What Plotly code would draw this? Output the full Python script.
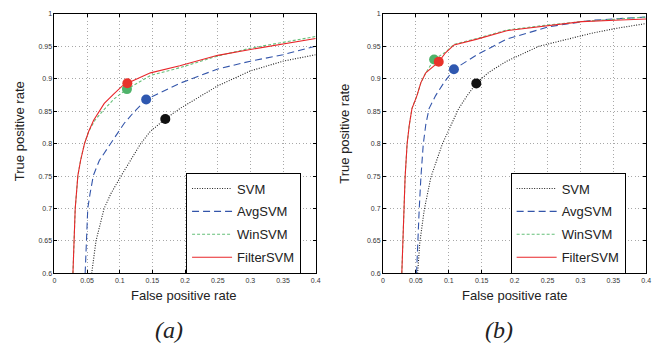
import plotly.graph_objects as go

# ---- Panel (a) data ----
a_svm_x = [0.057, 0.0636, 0.076, 0.0864, 0.1025, 0.1167, 0.132, 0.147, 0.1697, 0.192, 0.25, 0.30, 0.35, 0.40]
a_svm_y = [0.600, 0.650, 0.700, 0.723, 0.751, 0.774, 0.800, 0.819, 0.838, 0.854, 0.889, 0.912, 0.927, 0.937]
a_avg_x = [0.047, 0.0485, 0.051, 0.0545, 0.0596, 0.0687, 0.0864, 0.0965, 0.1066, 0.122, 0.1404, 0.192, 0.25, 0.30, 0.35, 0.40]
a_avg_y = [0.600, 0.650, 0.700, 0.723, 0.751, 0.774, 0.800, 0.816, 0.831, 0.849, 0.868, 0.893, 0.915, 0.927, 0.937, 0.950]
a_win_x = [0.0283, 0.0298, 0.0318, 0.0359, 0.040, 0.046, 0.0525, 0.062, 0.0737, 0.0914, 0.111, 0.147, 0.192, 0.25, 0.30, 0.35, 0.40]
a_win_y = [0.600, 0.650, 0.700, 0.751, 0.774, 0.800, 0.819, 0.836, 0.850, 0.869, 0.884, 0.905, 0.917, 0.935, 0.947, 0.956, 0.965]
a_fil_x = [0.0283, 0.0298, 0.0318, 0.0359, 0.040, 0.046, 0.0525, 0.060, 0.0687, 0.0763, 0.0914, 0.104, 0.1116, 0.147, 0.192, 0.25, 0.30, 0.35, 0.40]
a_fil_y = [0.600, 0.650, 0.700, 0.751, 0.774, 0.800, 0.819, 0.836, 0.850, 0.862, 0.877, 0.889, 0.893, 0.909, 0.920, 0.936, 0.945, 0.953, 0.962]
a_pts_x = [0.1697, 0.1404, 0.111, 0.1116]
a_pts_y = [0.838, 0.868, 0.884, 0.893]

# ---- Panel (b) data ----
b_svm_x = [0.0526, 0.056, 0.0627, 0.0727, 0.090, 0.103, 0.115, 0.128, 0.1418, 0.161, 0.188, 0.237, 0.277, 0.317, 0.357, 0.40]
b_svm_y = [0.600, 0.648, 0.698, 0.748, 0.799, 0.829, 0.854, 0.874, 0.893, 0.910, 0.927, 0.950, 0.960, 0.970, 0.978, 0.985]
b_avg_x = [0.051, 0.0526, 0.055, 0.0576, 0.0612, 0.065, 0.070, 0.080, 0.0927, 0.1078, 0.143, 0.188, 0.252, 0.317, 0.40]
b_avg_y = [0.600, 0.648, 0.698, 0.748, 0.799, 0.829, 0.854, 0.874, 0.894, 0.9145, 0.937, 0.961, 0.980, 0.990, 0.995]
b_win_x = [0.0286, 0.030, 0.0316, 0.0336, 0.0366, 0.040, 0.044, 0.0516, 0.0576, 0.065, 0.0777, 0.095, 0.108, 0.143, 0.188, 0.252, 0.302, 0.352, 0.40]
b_win_y = [0.600, 0.648, 0.698, 0.748, 0.799, 0.829, 0.854, 0.874, 0.894, 0.909, 0.9296, 0.941, 0.953, 0.962, 0.975, 0.983, 0.988, 0.992, 0.995]
b_fil_x = [0.0286, 0.030, 0.0316, 0.0336, 0.0366, 0.040, 0.044, 0.0516, 0.0576, 0.065, 0.0847, 0.095, 0.108, 0.143, 0.188, 0.252, 0.302, 0.352, 0.40]
b_fil_y = [0.600, 0.648, 0.698, 0.748, 0.799, 0.829, 0.854, 0.874, 0.894, 0.909, 0.926, 0.940, 0.952, 0.961, 0.974, 0.982, 0.988, 0.990, 0.992]
b_pts_x = [0.1418, 0.1078, 0.0777, 0.0847]
b_pts_y = [0.8928, 0.9145, 0.9296, 0.926]

names = ["SVM", "AvgSVM", "WinSVM", "FilterSVM"]
line_colors = ["#222222", "#3355aa", "#66c07a", "#e8262a"]
dot_colors = ["#111111", "#2f58b0", "#4fb36a", "#e8322b"]
dashes = ["1px,1.5px", "7px,4px", "3px,2px", "solid"]

x_ticks = [0, 0.05, 0.1, 0.15, 0.2, 0.25, 0.3, 0.35, 0.4]
x_ticktext = ["0", "0.05", "0.1", "0.15", "0.2", "0.25", "0.3", "0.35", "0.4"]
y_ticks = [0.6, 0.65, 0.7, 0.75, 0.8, 0.85, 0.9, 0.95, 1.0]
y_ticktext = ["0.6", "0.65", "0.7", "0.75", "0.8", "0.85", "0.9", "0.95", "1"]
x_label = "False positive rate"
y_label = "True positive rate"
captions = ["(a)", "(b)"]

W, H = 672, 347
def px(v):
    return v / W
def py(v):
    return 1 - v / H

fig = go.Figure()

panels = [
    ("x", "y", "legend", [(a_svm_x, a_svm_y), (a_avg_x, a_avg_y), (a_win_x, a_win_y), (a_fil_x, a_fil_y)], a_pts_x, a_pts_y),
    ("x2", "y2", "legend2", [(b_svm_x, b_svm_y), (b_avg_x, b_avg_y), (b_win_x, b_win_y), (b_fil_x, b_fil_y)], b_pts_x, b_pts_y),
]

for xa, ya, lg, series, ptx, pty in panels:
    for i, (sx, sy) in enumerate(series):
        fig.add_trace(go.Scatter(
            x=sx, y=sy, mode="lines", name=names[i], xaxis=xa, yaxis=ya,
            legend=lg, legendgroup=lg + names[i],
            line=dict(color=line_colors[i], width=1.1, dash=dashes[i]),
        ))
    for i in range(4):
        fig.add_trace(go.Scatter(
            x=[ptx[i]], y=[pty[i]], mode="markers", showlegend=False, xaxis=xa, yaxis=ya,
            marker=dict(color=dot_colors[i], size=10, line=dict(width=0)),
            hoverinfo="skip",
        ))

axis_common = dict(
    showline=True, linecolor="black", linewidth=1, mirror="ticks",
    ticks="inside", ticklen=3, tickcolor="black",
    showgrid=True, gridcolor="#a8a8a8", griddash="1px,2.5px", gridwidth=1,
    zeroline=False, tickfont=dict(family="Liberation Sans, Arial", size=7, color="#333"),
)
tfont = dict(family="Liberation Sans, Arial", size=13, color="#222")
lfont = dict(family="Liberation Sans, Arial", size=13, color="#222")
cfont = dict(family="Liberation Serif, Times New Roman", size=24, color="#222")

def ann(text, x, y, font, angle=0):
    return dict(text=text, x=px(x), y=py(y), xref="paper", yref="paper", showarrow=False,
                font=font, textangle=angle, xanchor="center", yanchor="middle")

fig.update_layout(
    width=W, height=H,
    margin=dict(l=0, r=0, t=0, b=0),
    paper_bgcolor="white", plot_bgcolor="white",
    xaxis=dict(domain=[px(53), px(317)], range=[0, 0.4], tickvals=x_ticks, ticktext=x_ticktext, anchor="y", **axis_common),
    yaxis=dict(domain=[py(275), py(10)], range=[0.6, 1.0], tickvals=y_ticks, ticktext=y_ticktext, anchor="x", **axis_common),
    xaxis2=dict(domain=[px(385), px(651)], range=[0, 0.4], tickvals=x_ticks, ticktext=x_ticktext, anchor="y2", **axis_common),
    yaxis2=dict(domain=[py(275), py(10)], range=[0.6, 1.0], tickvals=y_ticks, ticktext=y_ticktext, anchor="x2", **axis_common),
    legend=dict(x=px(186), y=py(172), xanchor="left", yanchor="top",
                bordercolor="black", borderwidth=1, bgcolor="white",
                font=lfont, tracegroupgap=3, itemwidth=40, entrywidth=102),
    legend2=dict(x=px(514), y=py(172), xanchor="left", yanchor="top",
                 bordercolor="black", borderwidth=1, bgcolor="white",
                 font=lfont, tracegroupgap=3, itemwidth=40, entrywidth=102),
    annotations=[
        ann(x_label, 184, 298, tfont),
        ann(x_label, 518, 298, tfont),
        ann(y_label, 18, 130, tfont, -90),
        ann(y_label, 346, 132, tfont, -90),
        ann("<i>" + captions[0] + "</i>", 169, 333, cfont),
        ann("<i>" + captions[1] + "</i>", 502, 333, cfont),
    ],
)

fig.write_html("out.html", config={"displayModeBar": False},
               post_script="document.body.style.margin='0';document.body.style.overflow='hidden';")
